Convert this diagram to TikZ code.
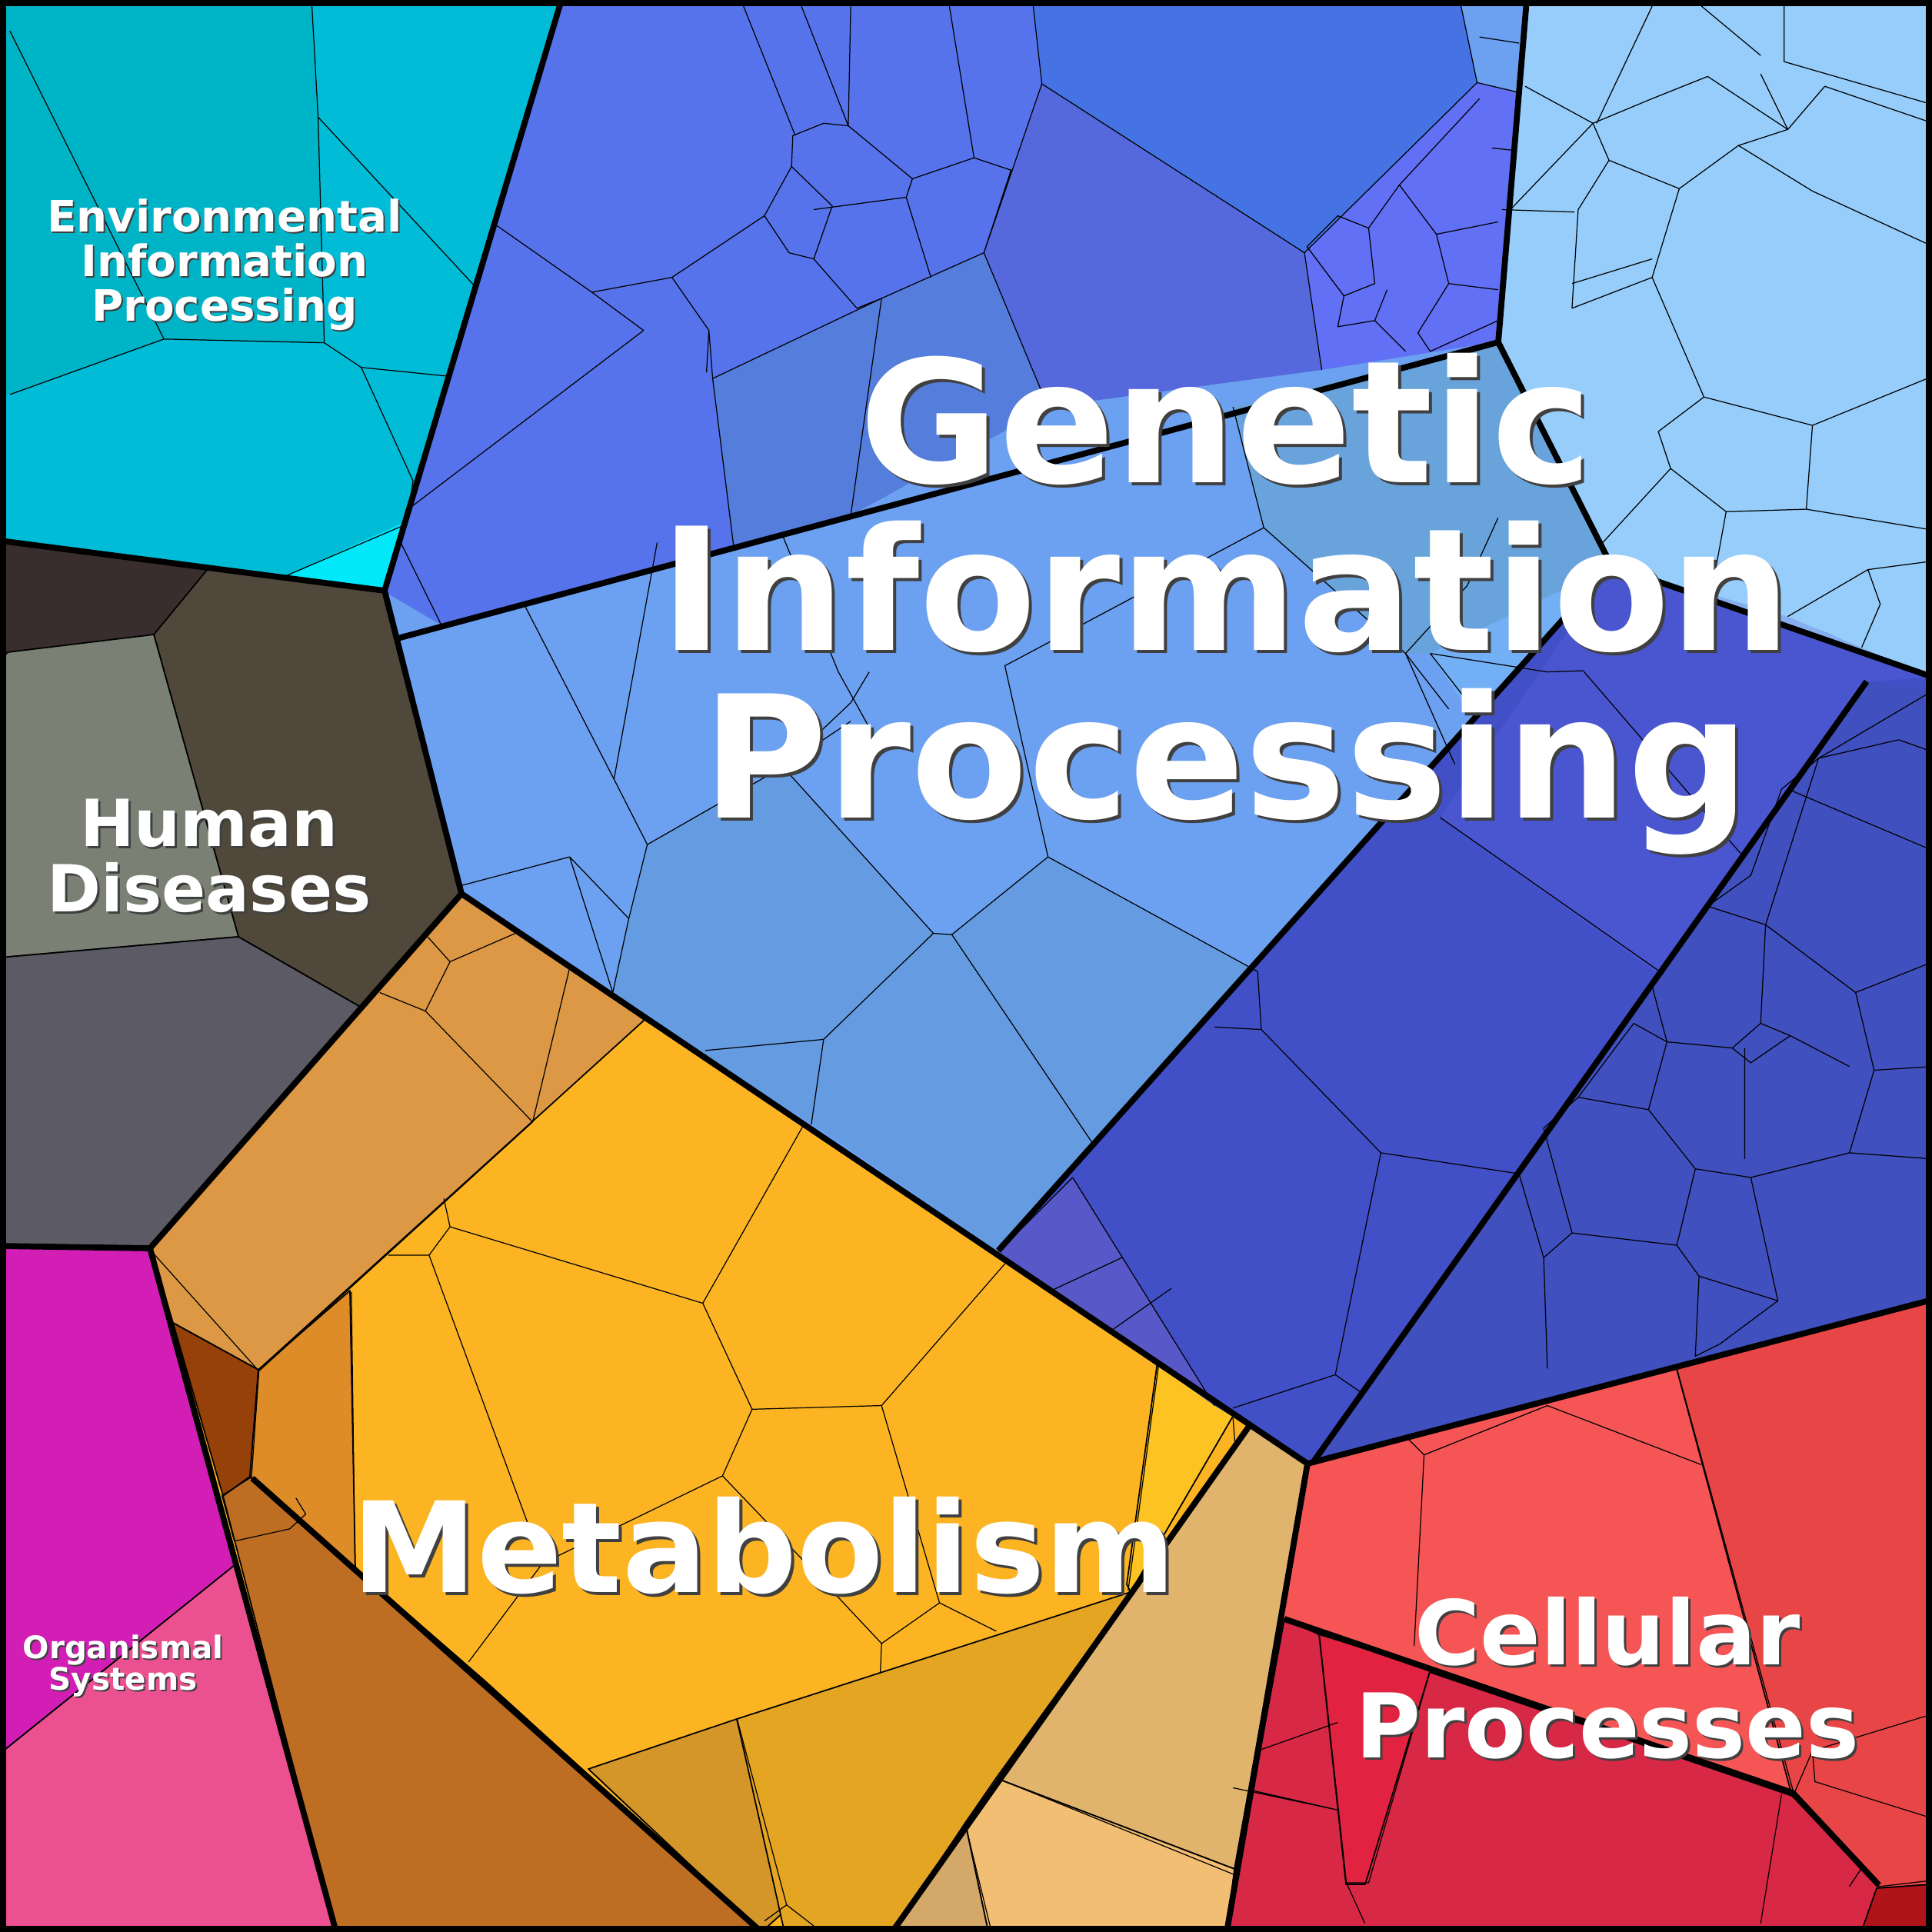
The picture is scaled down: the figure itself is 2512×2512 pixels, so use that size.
\documentclass[tikz,border=0pt]{standalone}
\usepackage{fontspec}
\setmainfont{DejaVu Sans}
\begin{document}
\begin{tikzpicture}[x=0.01cm,y=-0.01cm,
 cell/.style={draw=black,line width=0.5pt,line join=round},
 thin/.style={draw=black,line width=0.35pt,line join=round},
 thick/.style={draw=black,line width=2.2pt,line join=round},
 disp/.style={x=0.01602cm,y=-0.01602cm},
 lbl/.style={text=white,align=center},
 shd/.style={text=black!75,align=center}]
\useasboundingbox (0,0) rectangle (2512,2512);
% ---------- Environmental
\fill[cell,fill={rgb,255:red,0;green,188;blue,214}] (0,0)--(730,0)--(500,768)--(0,703)--cycle;
\begin{scope}[disp]
\fill[fill={rgb,255:red,0;green,180;blue,200}] (0,0)--(253,5)--(258,95)--(263,278)--(133,275)--(8,320)--(0,320)--cycle;
\fill[fill={rgb,255:red,0;green,232;blue,250}] (232,467)--(325,425)--(312,478)--cycle;
\draw[thin] (8,25)--(133,275)--(263,278)--(258,95)--(253,5) (258,95)--(385,232) (263,278)--(293,298)--(362,305)
 (293,298)--(335,390)--(330,425)--(232,467) (133,275)--(8,320);
\end{scope}
% ---------- Human diseases
\fill[cell,fill={rgb,255:red,58;green,45;blue,45}] (0,703)--(500,768)--(600,1162)--(195,1623)--(0,1620)--cycle;
\fill[cell,fill={rgb,255:red,80;green,72;blue,58}] (270,740)--(500,768)--(600,1162)--(470,1310)--(310,1218)--(200,825)--cycle;
\fill[cell,fill={rgb,255:red,122;green,128;blue,115}] (10,848)--(200,825)--(310,1218)--(0,1245)--(0,860)--cycle;
\fill[cell,fill={rgb,255:red,92;green,90;blue,100}] (0,1245)--(310,1218)--(470,1310)--(195,1623)--(0,1620)--cycle;
% ---------- Organismal
\fill[cell,fill={rgb,255:red,210;green,30;blue,180}] (0,1620)--(195,1623)--(305,2035)--(0,2280)--cycle;
\fill[cell,fill={rgb,255:red,235;green,80;blue,145}] (0,2280)--(305,2035)--(437,2512)--(0,2512)--cycle;
% ---------- Metabolism
\fill[cell,fill={rgb,255:red,252;green,180;blue,35}] (195,1623)--(600,1162)--(1700,1903)--(1595,2512)--(437,2512)--cycle;
\fill[cell,fill={rgb,255:red,220;green,152;blue,68}] (195,1623)--(600,1162)--(838,1326)--(336,1781)--(225,1720)--cycle;
\fill[cell,fill={rgb,255:red,150;green,65;blue,10}] (225,1720)--(336,1781)--(325,1920)--(290,1945)--cycle;
\fill[cell,fill={rgb,255:red,222;green,140;blue,40}] (336,1781)--(455,1678)--(462,2040)--(325,1920)--cycle;
\fill[cell,fill={rgb,255:red,190;green,110;blue,35}] (290,1945)--(325,1920)--(630,2185)--(990,2512)--(437,2512)--cycle;
\fill[cell,fill={rgb,255:red,212;green,150;blue,40}] (765,2300)--(958,2235)--(1020,2485)--(990,2512)--cycle;
\fill[cell,fill={rgb,255:red,228;green,165;blue,35}] (958,2235)--(1470,2070)--(1160,2512)--(1020,2512)--cycle;
\fill[cell,fill={rgb,255:red,225;green,180;blue,110}] (1470,2070)--(1625,1853)--(1700,1903)--(1605,2430)--(1295,2312)--cycle;
\fill[cell,fill={rgb,255:red,242;green,190;blue,115}] (1255,2370)--(1295,2312)--(1605,2430)--(1595,2512)--(1285,2512)--cycle;
\fill[cell,fill={rgb,255:red,212;green,168;blue,105}] (1160,2512)--(1255,2370)--(1285,2512)--cycle;
\fill[cell,fill={rgb,255:red,252;green,195;blue,35}] (1505,1770)--(1605,1838)--(1470,2070)--(1465,2060)--cycle;
\begin{scope}[disp]
\draw[thin] (347,760)--(365,780)--(345,820)--(432,910)--(462,785) (365,780)--(418,757) (345,820)--(308,805)
 (123,1015)--(210,1112)--(432,910)
 (315,1018)--(348,1018)--(365,995)--(360,972) (365,995)--(570,1057)--(652,912) (570,1057)--(610,1143)--(715,1140)--(815,1025)
 (610,1143)--(586,1197)--(440,1268)--(348,1018) (586,1197)--(670,1285)--(715,1333)--(762,1300)--(715,1140) (762,1300)--(808,1323)
 (715,1333)--(714,1357) (440,1268)--(380,1348) (285,1048)--(288,1275) (940,1105)--(915,1290) (1000,1150)--(1002,1175)
 (210,1112)--(204,1198)--(180,1213) (204,1198)--(285,1270) (180,1213)--(190,1250)--(235,1240)--(248,1228)--(240,1215)
 (598,1395)--(638,1545)--(620,1558) (638,1545)--(660,1562) (783,1480)--(803,1562) (808,1442)--(1000,1520);
\end{scope}
% ---------- Genetic information processing
\fill[cell,fill={rgb,255:red,108;green,160;blue,240}] (730,0)--(1985,0)--(1948,445)--(2095,735)--(2430,840)--(2512,880)--(2512,1690)--(1700,1903)--(600,1162)--(500,768)--cycle;
\begin{scope}[disp]
\fill[fill={rgb,255:red,86;green,115;blue,235}] (455,5)--(838,5)--(845,68)--(798,205)--(850,330)--(690,418)--(595,443)--(358,507)--(312,480)--cycle;
\fill[fill={rgb,255:red,85;green,125;blue,220}] (578,307)--(715,242)--(798,205)--(850,330)--(690,418)--(595,443)--cycle;
\fill[fill={rgb,255:red,85;green,105;blue,220}] (798,205)--(845,68)--(1058,205)--(1072,300)--(850,330)--cycle;
\fill[fill={rgb,255:red,70;green,115;blue,228}] (838,5)--(1185,5)--(1198,67)--(1058,205)--(845,68)--cycle;
\fill[fill={rgb,255:red,98;green,112;blue,245}] (1058,205)--(1198,67)--(1232,75)--(1215,277)--(1072,300)--cycle;
\fill[fill={rgb,255:red,150;green,205;blue,250}] (1240,5)--(1568,5)--(1568,550)--(1450,500)--(1305,460)--(1215,277)--cycle;
\fill[fill={rgb,255:red,135;green,175;blue,240}] (1308,459)--(1450,500)--(1568,550)--(1568,560)--(1510,540)--(1390,505)--cycle;
\fill[fill={rgb,255:red,105;green,163;blue,220}] (1000,330)--(1215,277)--(1305,460)--(1160,530)--(1140,530)--(1025,428)--cycle;
\fill[fill={rgb,255:red,115;green,175;blue,245}] (1160,530)--(1305,460)--(1320,480)--(1190,575)--cycle;
\fill[fill={rgb,255:red,100;green,155;blue,225}] (497,805)--(510,745)--(525,685)--(635,622)--(757,757)--(772,758)--(850,695)--(1020,788)--(1023,835)--(888,930)--(810,1015)--(660,912)--(523,828)--cycle;
\fill[fill={rgb,255:red,66;green,80;blue,200}] (810,1015)--(1308,459)--(1568,549)--(1568,1055)--(1065,1188)--(985,1140)--cycle;
\fill[fill={rgb,255:red,74;green,86;blue,208}] (1308,459)--(1568,549)--(1515,553)--(1345,790)--(1168,663)--cycle;
\fill[fill={rgb,255:red,64;green,80;blue,190}] (1065,1188)--(1515,553)--(1568,560)--(1568,1055)--cycle;
\fill[fill={rgb,255:red,88;green,88;blue,200}] (810,1015)--(870,955)--(985,1140)--cycle;
\draw[thin] (798,205)--(845,68)--(1058,205)--(1072,300) (845,68)--(838,5) (1058,205)--(1198,67)--(1185,5) (798,205)--(850,330)
 (403,183)--(480,237)--(545,225)--(575,268)--(573,302) (480,237)--(522,268)
 (545,225)--(620,175)--(640,205)--(660,210)--(695,250)--(715,242)--(798,205)
 (620,175)--(642,135)--(643,110)--(668,100)--(688,102)--(740,145)--(735,160)--(755,225) (688,102)--(650,5)
 (603,5)--(645,110) (740,145)--(790,128)--(820,138)--(798,205) (790,128)--(770,5) (660,170)--(735,160)
 (642,135)--(675,167)--(660,210) (578,307)--(595,443) (575,268)--(578,307)--(715,242)--(690,418)
 (335,410)--(522,268) (325,440)--(358,507) (688,102)--(690,5)
 (1060,200)--(1090,240)--(1115,230)--(1110,185)--(1135,150)--(1165,190)--(1175,230)--(1215,235)
 (1090,240)--(1085,265)--(1115,260)--(1125,235) (1135,150)--(1200,80) (1165,190)--(1215,180)
 (1175,230)--(1150,270)--(1160,285)--(1215,260) (1110,185)--(1085,175)--(1060,200) (1115,260)--(1140,285)
 (1198,67)--(1232,75) (1200,30)--(1232,35) (1210,120)--(1228,122)
 (1237,70)--(1292,100)--(1305,130)--(1280,170)--(1275,250)--(1340,225)--(1382,322)--(1345,350)--(1355,380)--(1400,415)--(1465,413)--(1470,345)--(1382,322)
 (1292,100)--(1340,80)--(1385,62)--(1450,105)--(1410,118)--(1362,153)--(1305,130) (1362,153)--(1340,225)
 (1410,118)--(1470,155)--(1568,200) (1450,105)--(1480,70)--(1568,100) (1428,60)--(1450,105) (1447,5)--(1447,50)--(1568,85)
 (1470,345)--(1568,305) (1465,413)--(1568,430) (1400,415)--(1390,470) (1355,380)--(1300,440)
 (1218,170)--(1277,172) (1292,100)--(1225,170) (1340,5)--(1295,100) (1380,5)--(1428,45) (1275,230)--(1340,210)
 (1450,500)--(1515,462)--(1525,490)--(1510,525) (1515,462)--(1568,455)
 (1000,330)--(1025,428)--(1140,530)--(1180,620) (1025,428)--(815,540)--(850,695)
 (1140,530)--(1190,475)--(1215,420) (1160,530)--(1255,545) (1140,530)--(1175,575) (1160,530)--(1195,575)
 (425,490)--(498,632)--(525,685) (498,632)--(533,440) (525,685)--(635,622)--(690,570)--(705,545) (635,622)--(690,585)
 (525,685)--(510,745)--(497,805) (375,718)--(462,695)--(510,745) (635,435)--(680,545)--(705,590)
 (635,622)--(757,757)--(772,758)--(850,695) (757,757)--(668,843)--(572,852) (668,843)--(658,912)
 (772,758)--(888,930) (850,695)--(1020,788)--(1023,835) (1023,835)--(1120,935)--(1232,952) (1120,935)--(1083,1115)
 (1023,835)--(985,833) (462,695)--(497,805)
 (870,955)--(985,1140) (810,1015)--(870,955) (850,1048)--(910,1020) (903,1078)--(950,1045)
 (1083,1115)--(1000,1142) (1083,1115)--(1105,1130) (1168,663)--(1349,790) (1284,544)--(1415,696) (1255,545)--(1284,544)
 (1450,640)--(1568,690) (1420,710)--(1385,735)--(1432,750) (1432,750)--(1475,615)--(1568,560)
 (1432,750)--(1505,805)--(1568,780) (1505,805)--(1520,868)--(1568,865) (1432,750)--(1428,830)--(1452,840)
 (1520,868)--(1500,935)--(1568,940) (1500,935)--(1420,955)--(1442,1055) (1420,955)--(1375,948)--(1360,1010)--(1378,1035)--(1442,1055)
 (1375,948)--(1337,900)--(1280,890)--(1252,915)--(1275,1000)--(1360,1010) (1275,1000)--(1252,1020)--(1232,952)
 (1337,900)--(1352,845)--(1405,850)--(1428,830)
 (1352,845)--(1325,830)--(1280,890) (1405,850)--(1420,862)--(1452,840)--(1500,865) (1415,850)--(1415,940)
 (1385,735)--(1340,800)--(1352,845) (1252,1020)--(1255,1110) (1378,1035)--(1375,1100)--(1395,1090)--(1442,1055)
 (1475,615)--(1445,640)--(1420,710) (1475,615)--(1540,600)--(1568,610);
\end{scope}
% ---------- Cellular processes
\fill[cell,fill={rgb,255:red,245;green,85;blue,85}] (1700,1903)--(2512,1690)--(2512,2512)--(1595,2512)--cycle;
\fill[cell,fill={rgb,255:red,232;green,70;blue,70}] (2180,1780)--(2512,1690)--(2512,2450)--(2445,2455)--(2330,2335)--cycle;
\fill[cell,fill={rgb,255:red,215;green,40;blue,70}] (1670,2105)--(1715,2125)--(2330,2335)--(2445,2455)--(2440,2512)--(1595,2512)--cycle;
\fill[cell,fill={rgb,255:red,225;green,35;blue,65}] (1715,2125)--(1860,2170)--(1775,2450)--(1750,2450)--cycle;
\fill[cell,fill={rgb,255:red,175;green,20;blue,25}] (2440,2455)--(2512,2450)--(2512,2512)--(2420,2512)--cycle;
\begin{scope}[disp]
\draw[thin] (1155,1180)--(1147,1335) (1140,1165)--(1155,1180)--(1255,1140)--(1380,1188) (1360,1110)--(1455,1455)
 (1070,1325)--(1092,1527)--(1107,1560) (1160,1355)--(1110,1527)--(1092,1527) (1015,1452)--(1085,1468)
 (1455,1455)--(1470,1420)--(1568,1390) (1470,1420)--(1472,1445)--(1568,1475) (1445,1455)--(1428,1560)
 (1525,1530)--(1568,1525) (1500,1530)--(1510,1515) (1000,1450)--(1085,1468) (1020,1420)--(1085,1397);
\end{scope}
% ---------- Thick borders
\draw[thick] (730,0)--(500,768)--(0,703);
\draw[thick] (500,768)--(600,1162)--(195,1623)--(0,1620);
\draw[thick] (195,1623)--(437,2512);
\draw[thick] (600,1162)--(1700,1903)--(2512,1690);
\draw[thick] (1700,1903)--(1595,2512);
\draw[thick] (1625,1853)--(1160,2512);
\draw[thick] (517,830)--(1948,445)--(1985,0);
\draw[thick] (1948,445)--(2095,735)--(2512,880);
\draw[thick] (2095,735)--(1298,1626);
\draw[thick] (1706,1903)--(2427,886);
\draw[thick] (328,1922)--(990,2512);
\draw[thick] (1670,2105)--(2331,2331)--(2443,2451);
\draw[line width=4.5pt] (0,0) rectangle (2512,2512);
% ---------- Labels
\node[shd,font=\bfseries\fontsize{63}{62}\selectfont] (gs) at (1598,789) {Genetic\\Information\\Processing};
\node[lbl,font=\bfseries\fontsize{63}{62}\selectfont] (g) at (1594,785) {Genetic\\Information\\Processing};
\node[shd,font=\bfseries\fontsize{46.5}{46}\selectfont] (ms) at (997,2014) {Metabolism};
\node[lbl,font=\bfseries\fontsize{46.5}{46}\selectfont] (m) at (993,2010) {Metabolism};
\node[shd,font=\bfseries\fontsize{33}{34.5}\selectfont] (cs) at (2093,2185) {Cellular\\Processes};
\node[lbl,font=\bfseries\fontsize{33}{34.5}\selectfont] (c) at (2090,2182) {Cellular\\Processes};
\node[shd,font=\bfseries\fontsize{24}{24}\selectfont] (hs) at (275,1116) {Human\\Diseases};
\node[lbl,font=\bfseries\fontsize{24}{24}\selectfont] (h) at (272,1113) {Human\\Diseases};
\node[shd,font=\bfseries\fontsize{16}{16.5}\selectfont] (es) at (294,346) {Environmental\\Information\\Processing};
\node[lbl,font=\bfseries\fontsize{16}{16.5}\selectfont] (e) at (292,344) {Environmental\\Information\\Processing};
\node[shd,font=\bfseries\fontsize{11.5}{11.7}\selectfont] (os) at (162,2168) {Organismal\\Systems};
\node[lbl,font=\bfseries\fontsize{11.5}{11.7}\selectfont] (o) at (160,2166) {Organismal\\Systems};
\end{tikzpicture}
\end{document}
